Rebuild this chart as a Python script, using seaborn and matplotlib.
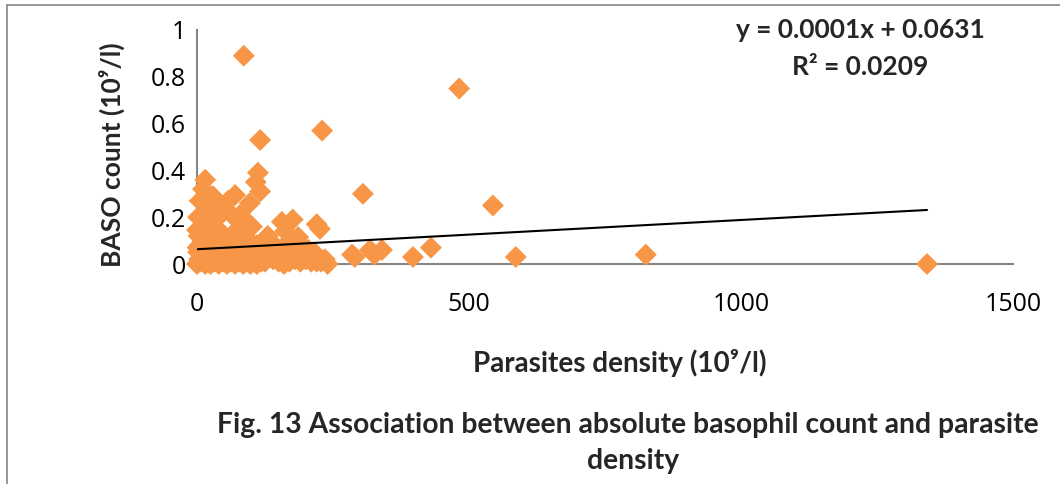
import matplotlib
matplotlib.use("Agg")
import matplotlib.pyplot as plt
from matplotlib.lines import Line2D
import seaborn as sns
import pandas as pd
import numpy as np

# ---- data ----
# scattered outlying points
outlier_density = [86, 482, 230, 116, 305, 544, 586, 825, 1342, 397, 430, 285, 290, 318, 340, 326, 226]
outlier_baso    = [0.89, 0.75, 0.57, 0.53, 0.30, 0.25, 0.03, 0.04, 0.00, 0.03, 0.07, 0.04, 0.03, 0.06, 0.06, 0.04, 0.15]

# upper part of the main cluster
upper_density = [112, 108, 116, 15, 11, 5, 29, 70, 97, 28, 18, 57, 64, 2, 94, 156, 176, 42, 73, 130, 162, 186, 0, 101, 220, 39, 79, 51, 83, 22, 35]
upper_baso    = [0.39, 0.35, 0.31, 0.36, 0.32, 0.27, 0.29, 0.295, 0.26, 0.25, 0.23, 0.27, 0.21, 0.20, 0.175, 0.18, 0.19, 0.14, 0.145, 0.12, 0.14, 0.115, 0.145, 0.16, 0.17, 0.24, 0.21, 0.12, 0.14, 0.17, 0.19]

# dense lower band of the main cluster
lower_density = [0, 2, 4, 5, 6, 8, 10, 12, 14, 15, 17, 18, 20, 22, 24, 25, 27, 30, 32, 35,
                 37, 40, 42, 45, 48, 50, 52, 55, 58, 60, 62, 65, 68, 70, 72, 75, 78, 80, 83, 85,
                 88, 90, 93, 95, 98, 100, 103, 105, 108, 110, 113, 115, 118, 120, 125, 130, 135, 140, 145, 150,
                 155, 160, 165, 170, 175, 180, 185, 190, 195, 200, 205, 210, 215, 220, 3, 9, 16, 26, 33, 44,
                 53, 63, 74, 86, 96, 110, 122, 138, 147, 166, 176, 202, 213, 1, 7, 21, 38, 47, 67, 82,
                 228, 235, 240]
lower_baso    = [0.00, 0.05, 0.02, 0.08, 0.01, 0.04, 0.10, 0.03, 0.06, 0.00, 0.02, 0.07, 0.01, 0.04, 0.09, 0.00, 0.03, 0.05, 0.01, 0.08,
                 0.02, 0.00, 0.06, 0.03, 0.01, 0.09, 0.04, 0.00, 0.02, 0.06, 0.01, 0.03, 0.08, 0.00, 0.05, 0.02, 0.01, 0.07, 0.03, 0.00,
                 0.04, 0.01, 0.06, 0.02, 0.00, 0.08, 0.03, 0.01, 0.05, 0.00, 0.02, 0.04, 0.01, 0.07, 0.01, 0.03, 0.05, 0.02, 0.06, 0.01,
                 0.03, 0.00, 0.05, 0.01, 0.08, 0.02, 0.04, 0.01, 0.03, 0.02, 0.06, 0.01, 0.05, 0.01, 0.12, 0.13, 0.11, 0.10, 0.12, 0.09,
                 0.11, 0.10, 0.09, 0.11, 0.10, 0.08, 0.07, 0.08, 0.07, 0.09, 0.08, 0.06, 0.047, 0.07, 0.14, 0.02, 0.05, 0.10, 0.04, 0.10,
                 0.01, 0.02, 0.00]

# trend line reported on the chart
trend_intercept = 0.0631
trend_slope = 0.000125
equation_text = "y = 0.0001x + 0.0631"
r2_text = "R² = 0.0209"

x_ticks = [0, 500, 1000, 1500]
y_ticks = [0, 0.2, 0.4, 0.6, 0.8, 1.0]
y_ticklabels = ["0", "0.2", "0.4", "0.6", "0.8", "1"]

df = pd.DataFrame({
    "density": lower_density + upper_density + outlier_density,
    "baso": lower_baso + upper_baso + outlier_baso,
})

# ---- drawing ----
sns.set_style("white")
plt.rcParams["font.family"] = ["Open Sans", "DejaVu Sans"]

fig = plt.figure(figsize=(10.6, 4.84), dpi=100)
ax = fig.add_axes([197 / 1060, 1 - 264 / 484, (1013 - 197) / 1060, (264 - 30) / 484])

sns.scatterplot(data=df, x="density", y="baso", marker="D", s=125,
                color="#F79646", edgecolor="none", linewidth=0, ax=ax, zorder=3, clip_on=False)

xs = np.array([df["density"].min(), df["density"].max()])
ax.plot(xs, trend_intercept + trend_slope * xs, color="black", lw=1.5, zorder=4)

ax.set_xlim(0, 1500)
ax.set_ylim(0, 1)
ax.set_xticks(x_ticks)
ax.set_xticklabels([str(t) for t in x_ticks])
ax.set_yticks(y_ticks)
ax.set_yticklabels(y_ticklabels)
ax.set_xlabel("")
ax.set_ylabel("")

for side in ["top", "right"]:
    ax.spines[side].set_visible(False)
for side in ["left", "bottom"]:
    ax.spines[side].set_color("#868686")
    ax.spines[side].set_linewidth(1.5)

ax.tick_params(axis="both", which="major", direction="out", length=6, width=1.3,
               color="#868686", labelsize=18, labelcolor="black")
ax.tick_params(axis="y", pad=2)
ax.tick_params(axis="x", pad=14)

bold = ["Lato", "DejaVu Sans"]
fig.text(620 / 1060, 1 - 363 / 484, "Parasites density (10⁹/l)", ha="center", va="center",
         fontsize=20, fontweight="bold", family=bold)
fig.text(112 / 1060, 1 - 155 / 484, "BASO count (10⁹/l)", ha="center", va="center",
         rotation=90, fontsize=19, fontweight="bold", family=bold)
fig.text(860 / 1060, 1 - 30 / 484, equation_text, ha="center", va="center",
         fontsize=19, fontweight="bold", family=bold)
fig.text(860 / 1060, 1 - 67 / 484, r2_text, ha="center", va="center",
         fontsize=19, fontweight="bold", family=bold)
fig.text(628 / 1060, 1 - 425 / 484, "Fig. 13 Association between absolute basophil count and parasite",
         ha="center", va="center", fontsize=20.3, fontweight="bold", family=bold)
fig.text(633 / 1060, 1 - 461 / 484, "density", ha="center", va="center",
         fontsize=20.3, fontweight="bold", family=bold)

# outer frame (top and left edges visible)
fig.add_artist(Line2D([7 / 1060, 7 / 1060], [0, 1 - 5 / 484], transform=fig.transFigure,
                      color="#868686", lw=1.2))
fig.add_artist(Line2D([7 / 1060, 1], [1 - 5 / 484, 1 - 5 / 484], transform=fig.transFigure,
                      color="#868686", lw=1.2))

fig.savefig("out.png", dpi=100)
